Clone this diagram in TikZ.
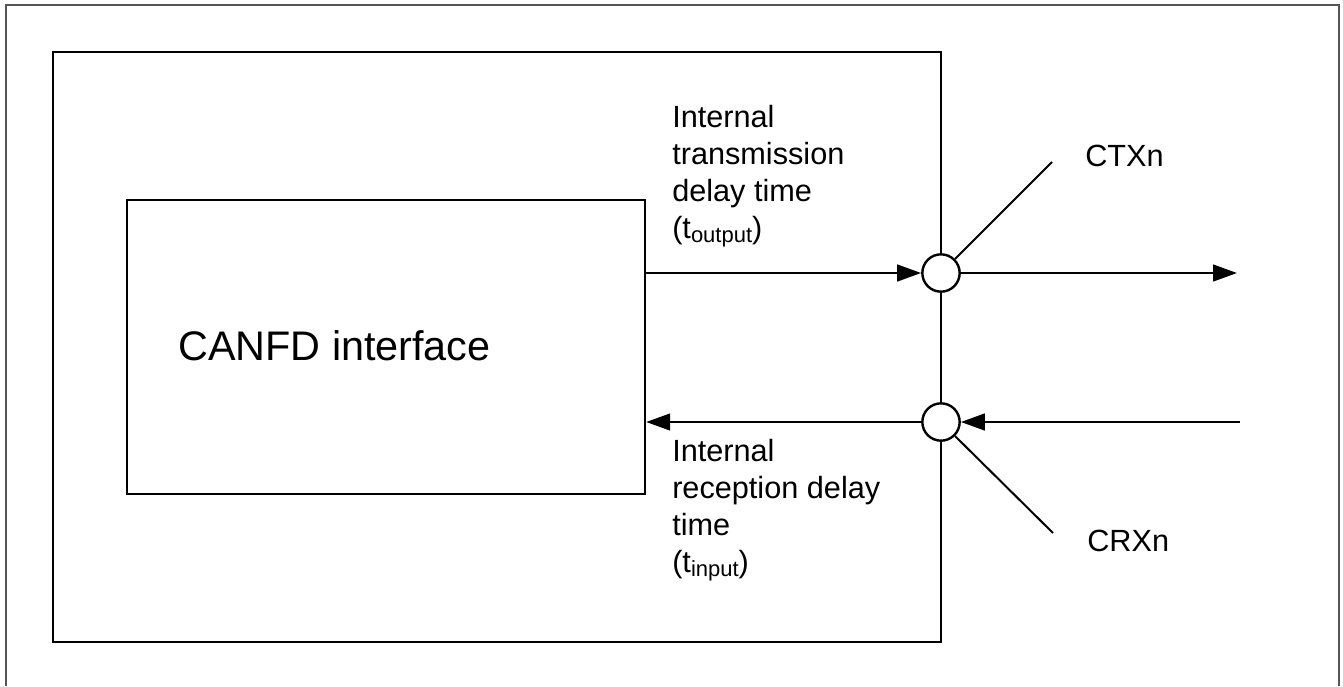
\documentclass[tikz,border=0pt]{standalone}
\usepackage{fontspec}
\setmainfont{Liberation Sans}
\usepackage{tikz}
\usetikzlibrary{arrows.meta,positioning}
\definecolor{framegray}{RGB}{85, 85, 85}
\newcommand{\lowsub}[1]{\raisebox{-2.75pt}{\fontsize{16.5}{16.5}\selectfont #1}}

\begin{document}
\begin{tikzpicture}[x=0.75pt, y=-0.75pt,
  chip/.style={draw, line width=1.8pt, rectangle, inner sep=0pt},
  block/.style={draw, line width=1.8pt, rectangle, inner sep=0pt, minimum width=388.5pt, minimum height=220.5pt},
  pin/.style={draw, line width=1.8pt, circle, fill=white, inner sep=0pt, minimum size=28pt},
  note/.style={font=\fontsize{23}{27.75}\selectfont, align=left, inner sep=0pt},
  title/.style={font=\fontsize{31}{36}\selectfont, inner sep=0pt},
  flow/.style={line width=1.8pt, -{Triangle[length=18pt, width=12.5pt]}},
  lead/.style={line width=1.5pt}
]
\useasboundingbox (0,0) rectangle (1343,686);

% page frame, open at the bottom
\draw[framegray, line width=1.5pt] (6,686) -- (6,5) -- (1339,5) -- (1339,686);

\draw[chip] (53,52) rectangle (941,642);
\node[block] (canfd) at (386,347) {};
\node[title, anchor=base west] (canfdlabel) at (178,360) {CANFD interface};

\node[pin] (ctx) at (941,273) {};
\node[pin] (crx) at (941,422) {};
\coordinate (txout) at (1237,273);
\coordinate (rxin) at (1240,422);
\coordinate (ctxend) at (1052,162);
\coordinate (crxend) at (1053,533);

\node[note, anchor=base west] (ctxlabel) at (1085,166) {CTXn};
\node[note, anchor=base west] (crxlabel) at (1087,551) {CRXn};

\node[note, anchor=north west] (tdelay) at (672,105)
  {Internal\\transmission\\delay time\\(t\lowsub{output})};
\node[note, anchor=north west] (rdelay) at (672,439)
  {Internal\\reception delay\\time\\(t\lowsub{input})};

% Connections
\draw[flow] (canfd.east |- ctx) -- (ctx.west);
\draw[flow] (ctx.east) -- (txout);
\draw[flow] (rxin) -- (crx.east);
\draw[flow] (crx.west) -- (canfd.east |- crx);
\draw[lead] (ctx.45) -- (ctxend);
\draw[lead] (crx.-45) -- (crxend);

\end{tikzpicture}
\end{document}
